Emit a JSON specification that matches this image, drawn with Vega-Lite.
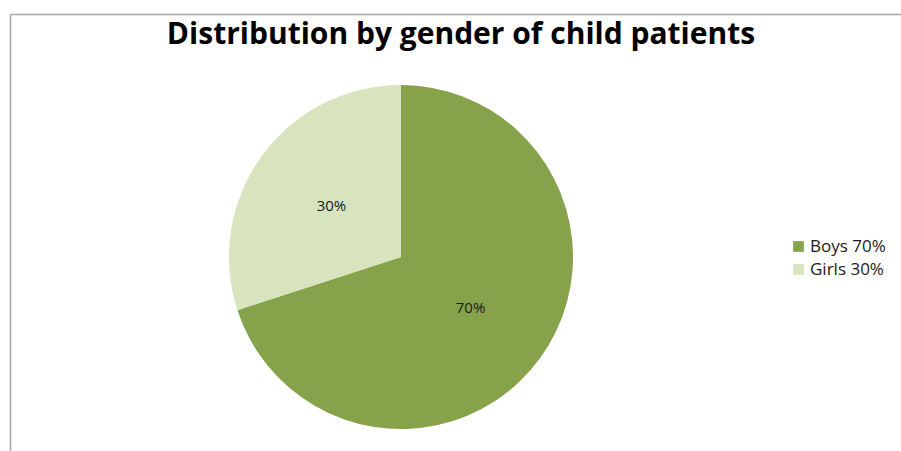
{
  "$schema": "https://vega.github.io/schema/vega-lite/v6.json",
  "width": 782,
  "height": 486,
  "padding": {"left": 10, "top": 14, "right": 0, "bottom": 0},
  "background": "white",
  "title": {
    "text": "Distribution by gender of child patients",
    "font": "Open Sans",
    "fontSize": 30,
    "fontWeight": "bold",
    "color": "#000000",
    "anchor": "middle",
    "frame": "group",
    "orient": "top",
    "baseline": "alphabetic",
    "offset": -29,
    "dx": 60,
    "dy": 31
  },
  "config": {
    "view": {"stroke": null},
    "font": "Open Sans"
  },
  "data": {
    "values": [
      {"gender": "Boys", "legend": "Boys 70%", "value": 70, "text": "70%"},
      {"gender": "Girls", "legend": "Girls 30%", "value": 30, "text": "30%"}
    ]
  },
  "layer": [
    {
      "mark": {"type": "point", "opacity": 0},
      "encoding": {
        "x": {"field": "value", "type": "quantitative", "scale": {"domain": [0, 100], "range": [0, 891]},
              "axis": {"orient": "top", "domain": true, "domainColor": "#a6a6a6", "domainWidth": 1.5, "ticks": false, "labels": false, "grid": false, "title": null}},
        "y": {"field": "value", "type": "quantitative", "scale": {"domain": [0, 100]},
              "axis": {"orient": "left", "domain": true, "domainColor": "#a6a6a6", "domainWidth": 1.5, "ticks": false, "labels": false, "grid": false, "title": null}}
      }
    },
    {
      "mark": {"type": "arc", "radius": 172},
      "encoding": {
        "theta": {"field": "value", "type": "quantitative", "stack": true},
        "order": {"field": "value", "sort": "descending"},
        "color": {
          "field": "legend", "type": "nominal",
          "scale": {"domain": ["Boys 70%", "Girls 30%"], "range": ["#86a24b", "#d7e4bd"]},
          "legend": {
            "title": null,
            "orient": "none",
            "legendX": 780,
            "legendY": 224,
            "symbolType": "square",
            "symbolSize": 115,
            "symbolStrokeWidth": 0,
            "labelFont": "Open Sans",
            "labelFontSize": 17,
            "labelColor": "#1a1a1a",
            "labelOffset": 3,
            "rowPadding": 5,
            "padding": 0
          }
        }
      }
    },
    {
      "mark": {"type": "text", "radius": 86, "font": "Open Sans", "fontSize": 15, "fill": "#1a1a1a"},
      "encoding": {
        "theta": {"field": "value", "type": "quantitative", "stack": true},
        "order": {"field": "value", "sort": "descending"},
        "detail": {"field": "legend", "type": "nominal"},
        "text": {"field": "text", "type": "nominal"}
      }
    }
  ]
}
